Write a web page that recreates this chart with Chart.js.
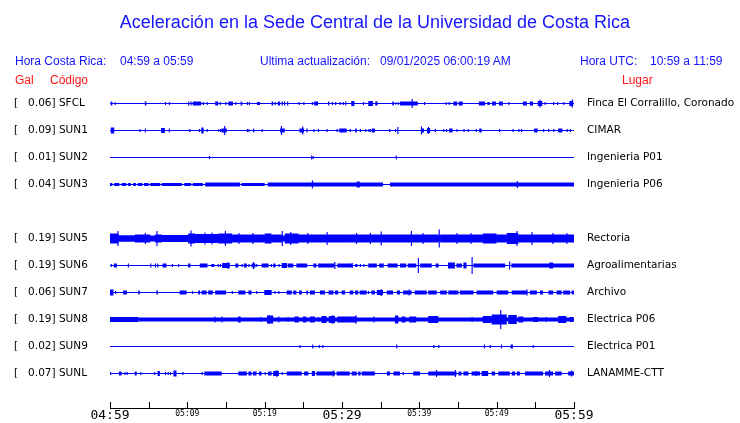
<!DOCTYPE html>
<html>
<head>
<meta charset="utf-8">
<script src="https://cdn.jsdelivr.net/npm/chart.js@4"></script>
<style>
  body { margin: 0; width: 740px; height: 423px; overflow: hidden; position: relative; background: #fff;
         font-family: "Liberation Sans", Arial, sans-serif; }
  .t { position: absolute; white-space: pre; font-size: 12px; color: #1414ff; line-height: 14px; }
  .r { color: #ff1414; }
  #chart { position: absolute; left: 0; top: 0; }
</style>
</head>
<body>
<canvas id="chart" width="740" height="428"></canvas>
<div class="t" style="left:0;width:750px;text-align:center;top:11px;font-size:18px;line-height:22px">Aceleración en la Sede Central de la Universidad de Costa Rica</div>
<div class="t" style="left:15px;top:54px">Hora Costa Rica:</div>
<div class="t" style="left:120px;top:54px">04:59 a 05:59</div>
<div class="t" style="left:260px;top:54px">Ultima actualización:</div>
<div class="t" style="left:380px;top:54px">09/01/2025 06:00:19 AM</div>
<div class="t" style="left:580px;top:54px">Hora UTC:</div>
<div class="t" style="left:650px;top:54px">10:59 a 11:59</div>
<div class="t r" style="left:15px;top:73px">Gal</div>
<div class="t r" style="left:50px;top:73px">Código</div>
<div class="t r" style="left:622px;top:73px">Lugar</div>
<script>
// stations, top to bottom (slot 4 is empty in the plot)
const gal   = ['0.06', '0.09', '0.01', '0.04', '', '0.19', '0.19', '0.06', '0.19', '0.02', '0.07'];
const codes = ['SFCL', 'SUN1', 'SUN2', 'SUN3', '', 'SUN5', 'SUN6', 'SUN7', 'SUN8', 'SUN9', 'SUNL'];
const places = ['Finca El Corralillo, Coronado', 'CIMAR', 'Ingenieria P01', 'Ingenieria P06', '',
  'Rectoria', 'Agroalimentarias', 'Archivo', 'Electrica P06', 'Electrica P01', 'LANAMME-CTT'];

// time axis: minutes after 04:59
const tickLabels = ['04:59', '', '05:09', '', '05:19', '', '05:29', '', '05:39', '', '05:49', '', '05:59'];
const bigLabels = ['04:59', '05:29', '05:59'];

// background trace amplitude (peak to peak) for each station
const baseAmp = [1, 1, 1, 1, 0, 6, 1, 1, 1, 1, 1];

// bursts: [start min, end min, peak-to-peak amplitude]
const sfcl = [[0.1,0.3,4],[0.6,0.75,3],[4.5,4.7,4],[7.1,7.25,3],[7.6,7.75,3],[10.1,10.25,4],[10.4,10.55,4],
  [10.7,11.8,4],[12.0,12.15,3],[12.5,12.65,3],[13.6,14.0,4],[14.2,14.35,3],[14.9,15.05,3],[15.3,15.9,4],
  [16.2,16.35,3],[16.9,17.1,4],[17.7,17.85,3],[17.95,18.1,3],[19.0,19.4,3],[20.9,21.1,4],[21.3,21.45,3],
  [21.7,22.0,4],[22.2,22.35,4],[22.5,22.65,4],[22.9,23.05,4],[24.4,24.55,3],[25.0,25.15,3],[26.1,26.25,3],
  [26.4,26.9,4],[28.2,28.35,4],[28.7,28.85,3],[29.1,29.25,3],[29.7,29.85,3],[30.1,30.25,3],[30.4,30.55,4],
  [31.2,31.6,5],[32.7,32.85,3],[33.4,34.0,5],[34.3,34.6,4],[36.5,36.7,4],[36.9,37.0,3],[37.2,37.35,3],
  [37.5,39.8,4],[39.0,39.15,9],[40.6,40.75,3],[43.4,43.55,3],[43.8,43.95,3],[44.4,44.9,4],[45.1,45.6,4],
  [47.7,48.5,4],[48.8,49.1,3],[49.4,49.9,4],[50.3,50.8,4],[51.5,51.65,3],[53.4,53.9,4],[54.3,54.7,4],
  [55.3,55.9,5],[55.55,55.7,8],[56.2,56.35,3],[57.3,57.45,3],[57.8,57.95,3],[58.6,58.75,3],[59.4,59.9,5],
  [59.7,59.85,8]];
const sun1 = [[0.1,0.55,6],[3.8,3.95,3],[4.5,4.65,4],[6.6,7.1,5],[7.6,7.75,4],[10.25,10.4,3],[11.5,11.65,3],
  [11.8,12.1,6],[12.5,12.65,3],[14.0,14.1,3],[14.2,14.35,3],[14.4,15.1,4],[14.75,14.9,9],[17.7,17.85,3],
  [17.9,18.05,3],[18.5,18.65,4],[19.6,19.75,3],[22.0,22.6,4],[22.1,22.25,9],[24.5,25.1,4],[24.85,25.0,8],
  [25.4,25.55,4],[26.3,26.45,3],[26.9,27.05,3],[28.0,28.15,3],[29.3,29.45,3],[29.65,30.6,4],[31.0,31.15,3],
  [31.7,31.9,4],[32.3,32.45,3],[33.0,33.15,3],[33.4,33.55,3],[33.6,33.75,3],[33.85,34.25,4],[36.1,36.25,3],
  [36.85,37.0,3],[37.15,37.3,7],[40.2,40.35,8],[40.3,40.6,4],[41.0,41.4,5],[41.1,41.25,7],[42.0,42.15,3],
  [43.1,43.25,3],[43.45,43.6,3],[43.85,44.3,4],[44.8,44.95,3],[45.7,45.85,3],[46.25,46.4,3],[47.3,47.45,3],
  [47.75,48.05,4],[50.3,50.45,3],[52.05,52.2,3],[52.8,52.95,3],[53.15,53.3,3],[54.85,55.3,4],[56.0,56.15,3],
  [56.65,56.8,3],[57.3,57.45,3],[57.95,58.5,4],[59.05,59.2,3],[59.45,59.6,3]];
const sun2 = [[12.8,12.95,3],[26.0,26.15,4],[26.2,26.35,3],[36.95,37.1,4]];
const sun3 = [[0.0,0.3,3],[0.55,1.2,3],[1.5,2.1,3],[2.3,2.7,3],[3.0,3.35,3],[3.6,4.2,3],[4.4,5.0,3],
  [5.2,6.5,3],[6.7,9.3,3],[9.6,10.5,3],[10.7,12.0,3],[12.3,16.8,4],[17.0,20.0,3],[20.4,35.3,4],[36.2,60,4],
  [26.1,26.25,8],[31.9,32.3,6],[52.6,52.75,7]];
const sun5 = [[0,1.1,10],[0.95,1.1,15],[1.1,3.2,6],[3.2,5.2,8],[4.5,4.65,11],[5.8,6.7,8],[6.0,6.15,15],
  [6.7,10.1,7],[10.1,11.0,10],[10.4,10.55,16],[11.0,14.0,9],[12.2,12.35,12],[13.1,13.25,12],[14.0,15.8,10],
  [14.85,15.0,15],[15.8,20.0,8],[16.6,16.75,11],[18.4,18.55,11],[20.0,20.9,10],[20.9,22.2,8],[22.2,22.35,15],
  [22.6,24.4,10],[23.3,23.45,13],[24.4,28.0,8],[25.5,25.65,11],[28.0,28.15,13],[28.0,30.4,8],[30.4,34.9,8],
  [31.8,31.95,11],[33.6,33.75,11],[35.0,35.15,14],[34.9,38.8,8],[38.9,39.05,15],[38.8,42.5,8],[40.4,40.55,11],
  [42.5,42.65,18],[42.7,48.2,8],[44.8,44.95,11],[46.6,46.75,11],[48.2,50.0,10],[50.0,51.3,8],[51.3,52.8,11],
  [52.55,52.7,15],[52.8,60,8],[54.5,54.65,13],[57.2,57.35,11],[59.0,59.15,11]];
const sun6 = [[0.1,0.25,3],[0.5,0.9,4],[2.3,2.45,4],[5.2,5.35,4],[5.8,5.95,4],[6.1,6.25,4],[6.8,7.3,4],
  [8.0,8.15,3],[8.8,8.95,3],[10.1,10.4,4],[11.6,12.6,4],[13.1,13.5,3],[13.9,14.05,3],[14.2,14.35,3],
  [14.5,15.5,5],[15.2,15.35,7],[16.2,16.6,4],[17.0,17.15,3],[17.3,17.7,4],[17.9,18.05,3],[18.3,18.8,4],
  [18.5,18.65,7],[18.9,19.05,3],[19.6,20.5,4],[20.8,20.95,3],[21.1,21.4,4],[21.8,21.95,3],[22.2,22.9,5],
  [23.0,23.7,4],[24.1,25.5,4],[26.3,26.7,4],[26.9,29.0,4],[29.0,29.15,7],[29.4,31.3,4],[31.25,31.4,5],
  [31.7,32.0,3],[32.3,32.45,3],[32.75,32.9,3],[33.4,34.5,4],[34.8,35.4,4],[35.9,37.2,4],[37.5,38.3,4],
  [38.5,39.6,4],[39.8,39.95,15],[40.1,41.6,4],[42.1,42.5,4],[43.7,44.6,6],[44.8,45.5,4],[45.7,46.1,6],
  [46.75,46.9,17],[47.0,51.1,4],[51.6,51.75,8],[51.9,60,4],[56.8,57.3,6]];
const sun7 = [[0,0.45,6],[0.65,0.8,3],[1.7,2.2,4],[3.65,3.85,4],[6.0,6.2,4],[9.0,9.9,4],[10.6,10.75,3],
  [11.4,11.65,4],[11.85,12.5,4],[12.7,13.3,4],[13.6,15.0,4],[15.75,15.9,3],[16.6,17.5,4],[17.9,18.3,4],
  [18.9,19.05,3],[19.95,20.9,5],[21.25,21.4,3],[21.75,21.9,3],[22.85,23.5,4],[23.7,24.1,4],[24.45,24.8,4],
  [25.4,25.6,4],[25.85,26.5,4],[27.15,27.8,4],[28.25,28.9,4],[29.1,29.5,4],[29.95,30.4,4],[31.0,31.45,4],
  [31.7,32.1,4],[32.3,33.2,4],[33.35,33.5,3],[33.8,34.25,4],[34.5,35.3,5],[35.0,35.15,7],[35.8,36.6,4],
  [37.1,37.5,4],[37.9,39.0,4],[38.6,38.75,6],[39.4,40.95,4],[41.15,42.25,4],[42.7,43.55,4],[43.75,45.05,4],
  [45.25,47.0,4],[47.4,49.55,4],[50.0,51.5,4],[51.95,53.9,4],[53.85,54.0,6],[54.3,55.2,4],[55.6,56.0,4],
  [56.7,57.3,4],[57.75,58.4,4],[58.6,59.5,4],[59.7,60,4]];
const sun8 = [[0,3.7,5],[3.7,60,4],[13.5,13.65,6],[14.4,14.55,6],[16.55,16.9,6],[19.4,19.55,5],[20.3,21.1,8],
  [20.5,20.65,9],[21.75,21.9,6],[22.95,23.1,5],[23.85,24.4,6],[24.95,25.4,6],[25.85,26.5,6],[26.9,27.05,5],
  [27.35,28.0,7],[28.3,29.1,7],[28.75,28.9,9],[29.4,30.5,6],[30.5,31.7,6],[31.7,31.9,8],[34.05,34.2,6],
  [36.85,37.3,8],[37.7,38.2,6],[38.7,39.6,6],[41.15,42.45,7],[46.75,46.9,5],[48.2,49.35,7],[49.35,51.3,10],
  [50.45,50.6,19],[51.5,52.6,9],[52.8,53.45,6],[54.7,55.35,5],[56.35,56.5,5],[57.95,59.0,7],[59.45,59.9,5]];
const sun9 = [[24.5,24.65,3],[26.15,26.3,4],[27.0,27.15,3],[27.45,27.6,3],[37.0,37.15,4],[41.8,41.95,3],
  [42.45,42.6,3],[48.35,48.5,4],[49.1,49.25,3],[50.55,50.7,4],[51.8,52.1,4],[54.65,54.8,3]];
const sunl = [[0,0.15,3],[1.15,1.5,4],[1.85,2.0,3],[2.15,2.3,3],[3.2,3.45,4],[3.9,4.05,3],[5.7,5.85,3],
  [6.15,6.45,5],[7.1,7.25,3],[7.45,7.6,3],[7.75,7.9,3],[8.2,8.6,6],[9.35,9.5,3],[11.85,12.0,3],[12.2,14.45,4],
  [16.6,17.7,4],[17.9,18.3,4],[18.5,18.95,4],[19.25,19.6,4],[20.0,20.15,3],[20.45,20.9,4],[21.1,21.85,5],
  [21.5,21.65,7],[22.2,22.35,3],[22.85,24.8,4],[25.1,25.65,4],[26.1,26.5,5],[26.7,29.1,4],[28.8,28.95,6],
  [29.3,31.0,4],[31.25,31.9,4],[32.1,32.4,4],[32.55,34.25,4],[35.8,36.2,4],[36.65,37.5,4],[37.85,38.0,3],
  [39.2,40.1,4],[41.15,44.8,4],[42.15,42.3,7],[44.6,44.75,7],[45.05,45.45,4],[45.7,46.35,4],[46.75,47.85,4],
  [47.3,47.45,5],[48.05,48.9,5],[49.35,49.8,4],[50.2,51.7,4],[51.95,52.4,4],[52.6,53.0,4],[53.65,56.0,4],
  [56.25,57.3,4],[56.75,56.9,7],[57.55,58.4,4],[59.25,60,4],[59.6,59.75,6]];

const traces = [sfcl, sun1, sun2, sun3, [], sun5, sun6, sun7, sun8, sun9, sunl];
const slots = codes.map((c, i) => i);

// one dataset per amplitude so every bar in it has the same thickness
const groups = {};
function addBar(amp, slot, t0, t1) {
  if (!groups[amp]) groups[amp] = [];
  groups[amp].push({ y: slot, x: [t0, t1] });
}
traces.forEach((ev, i) => {
  if (!codes[i]) return;
  addBar(baseAmp[i], i, 0, 60);
  ev.forEach(e => addBar(e[2], i, e[0], e[1]));
});
const datasets = Object.keys(groups).map(a => ({
  data: groups[a],
  barThickness: +a,
  grouped: false,
  backgroundColor: '#0000ff',
  borderWidth: 0,
  inflateAmount: 0
}));

// tick marks on the time axis point up into the plot
const upTicks = {
  id: 'upTicks',
  afterDraw(chart) {
    const xs = chart.scales.x, ctx = chart.ctx, b = Math.round(chart.chartArea.bottom);
    ctx.save();
    ctx.strokeStyle = '#000';
    ctx.lineWidth = 1;
    xs.ticks.forEach(t => {
      const p = Math.round(xs.getPixelForValue(t.value)) + 0.5;
      ctx.beginPath();
      ctx.moveTo(p, b - 7);
      ctx.lineTo(p, b);
      ctx.stroke();
    });
    ctx.restore();
  }
};

// plot runs from y=90 to y=408.7 with 27px per station row
const yRange = { min: -0.5, max: -0.5 + 318.7 / 27 };

new Chart('chart', {
  type: 'bar',
  data: { datasets },
  plugins: [upTicks],
  options: {
    indexAxis: 'y',
    responsive: false,
    animation: false,
    devicePixelRatio: 1,
    layout: { padding: { left: 14, top: 90, right: 0, bottom: 0 } },
    plugins: { legend: { display: false }, tooltip: { enabled: false } },
    scales: {
      x: {
        type: 'linear', min: 0, max: 60,
        grid: { display: false, drawTicks: false },
        border: { display: true, color: '#000', width: 1 },
        afterFit: s => { s.height = 14.5; },
        ticks: {
          stepSize: 5, autoSkip: false, maxRotation: 0, padding: 0, color: '#000',
          callback: v => tickLabels[Math.round(v / 5)],
          font: c => bigLabels.includes(tickLabels[c.index])
            ? { family: 'DejaVu Sans Mono', size: 13, lineHeight: 1 }
            : { family: 'DejaVu Sans Mono', size: 8, lineHeight: 1.4 }
        }
      },
      y: {
        type: 'linear', position: 'left', reverse: true, offset: false, ...yRange,
        grid: { display: false, drawTicks: false },
        border: { display: false },
        afterFit: s => { s.width = 96; },
        afterBuildTicks: s => { s.ticks = slots.map(v => ({ value: v })); },
        ticks: {
          crossAlign: 'far', autoSkip: false, color: '#000',
          font: { family: 'DejaVu Sans', size: 10.5 },
          callback: (v, i) => codes[i] ? '[   ' + gal[i] + '] ' + codes[i] : ''
        }
      },
      y2: {
        type: 'linear', position: 'right', reverse: true, offset: false, ...yRange,
        grid: { display: false, drawTicks: false },
        border: { display: false },
        afterFit: s => { s.width = 166; },
        afterBuildTicks: s => { s.ticks = slots.map(v => ({ value: v })); },
        ticks: {
          padding: 13, autoSkip: false, color: '#000',
          font: { family: 'DejaVu Sans', size: 10.5 },
          callback: (v, i) => places[i]
        }
      }
    }
  }
});
</script>
</body>
</html>
